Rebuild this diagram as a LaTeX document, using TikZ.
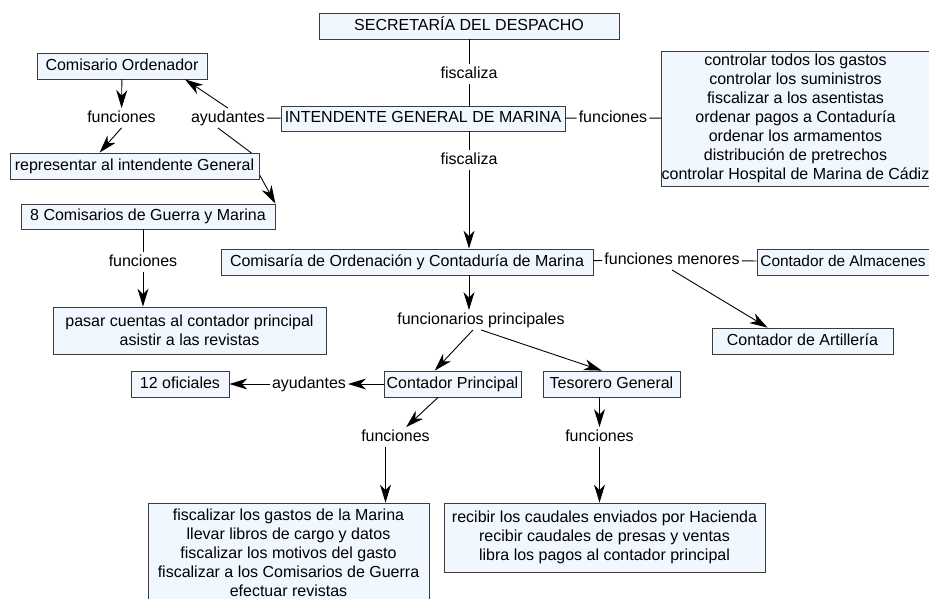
\documentclass[tikz,border=0pt]{standalone}
\usepackage{fontspec}
\setmainfont{Liberation Sans}
\usetikzlibrary{arrows.meta,backgrounds}
\definecolor{boxfill}{RGB}{240,247,254}
\definecolor{boxline}{RGB}{60,60,60}
\tikzset{
  concept/.style={draw=boxline, fill=boxfill, line width=0.8pt, inner sep=0pt,
    align=center, font=\fontsize{16}{19}\selectfont},
  oneline/.style={text height=12pt, text depth=3.5pt},
  word/.style={inner sep=2pt, font=\fontsize{16}{19}\selectfont,
    text height=12pt, text depth=3.5pt},
  link/.style={line width=0.9pt},
  arrowlink/.style={link, -{Stealth[length=18pt,width=11pt,inset=5.5pt]}},
}

\begin{document}
\begin{tikzpicture}[x=1pt, y=-1pt]
    \useasboundingbox (0,0) rectangle (929,599);
    \clip (0,0) rectangle (929,599);
    % concepts
    \node[concept, oneline, minimum width=300pt, minimum height=26pt] (sec) at (469,26) {SECRETARÍA DEL DESPACHO};
    \node[concept, oneline, minimum width=284pt, minimum height=25pt] (intd) at (423,118.5) {INTENDENTE GENERAL DE MARINA};
    \node[concept, oneline, minimum width=170pt, minimum height=26pt] (comord) at (122,66) {Comisario Ordenador};
    \node[concept, oneline, minimum width=249pt, minimum height=26pt] (repr) at (134.5,166) {representar al intendente General};
    \node[concept, oneline, minimum width=254pt, minimum height=25pt] (com8) at (148,216.5) {8 Comisarios de Guerra y Marina};
    \node[concept, minimum width=273pt, minimum height=47pt] (pasar) at (189.5,330.5) {pasar cuentas al contador principal\\asistir a las revistas};
    \node[concept, oneline, minimum width=372pt, minimum height=26pt] (comis) at (407,262) {Comisaría de Ordenación y Contaduría de Marina};
    \node[concept, oneline, minimum width=172pt, minimum height=26pt, font=\fontsize{15.4}{19}\selectfont] (almac) at (843,262) {Contador de Almacenes};
    \node[concept, oneline, minimum width=181pt, minimum height=26pt] (artil) at (802.5,341) {Contador de Artillería};
    \node[concept, minimum width=267pt, minimum height=135pt] (rbox) at (795.5,118.5) {controlar todos los gastos\\controlar los suministros\\fiscalizar a los asentistas\\ordenar pagos a Contaduría\\ordenar los armamentos\\distribución de pretrechos\\controlar Hospital de Marina de Cádiz};
    \node[concept, oneline, minimum width=98pt, minimum height=26pt] (ofic) at (180,384) {12 oficiales};
    \node[concept, oneline, minimum width=137pt, minimum height=26pt] (contP) at (452.5,384) {Contador Principal};
    \node[concept, oneline, minimum width=137pt, minimum height=26pt] (teso) at (611.5,384) {Tesorero General};
    \node[concept, minimum width=281pt, minimum height=100pt] (fbox) at (288.5,553) {fiscalizar los gastos de la Marina\\llevar libros de cargo y datos\\fiscalizar los motivos del gasto\\fiscalizar a los Comisarios de Guerra\\efectuar revistas};
    \node[concept, minimum width=321pt, minimum height=69pt] (rbox2) at (604.5,537.5) {recibir los caudales enviados por Hacienda\\recibir caudales de presas y ventas\\libra los pagos al contador principal};
    % linking words
    \node[word] (fisc1) at (469,74) {fiscaliza};
    \node[word] (fisc2) at (469,160) {fiscaliza};
    \node[word] (funcR) at (613,118) {funciones};
    \node[word] (ayuT) at (228,118) {ayudantes};
    \node[word] (funcA) at (121.5,118) {funciones};
    \node[word] (funcB) at (143,262) {funciones};
    \node[word] (funcM) at (672,260) {funciones menores};
    \node[word] (funcP) at (481,320) {funcionarios principales};
    \node[word] (ayuB) at (309,384) {ayudantes};
    \node[word] (funcC) at (395.5,437) {funciones};
    \node[word] (funcT) at (599.5,437) {funciones};
    \coordinate (h1) at (254,155);
    \coordinate (h2) at (258,172);
    \coordinate (cF) at ([xshift=-10pt]funcC.south);
    % links
    \draw[link] (sec) -- (fisc1);
    \draw[link] (fisc1) -- (fisc1 |- intd.north);
    \draw[link] (fisc2 |- intd.south) -- (fisc2);
    \draw[arrowlink] (fisc2) -- (fisc2 |- comis.north);
    \draw[link] (intd) -- (funcR);
    \draw[link] (funcR) -- (rbox);
    \draw[link] (intd) -- (ayuT);
    \draw[arrowlink] (ayuT.north) -- (comord.-12);
    \begin{scope}[on background layer]
        \draw[arrowlink] ([xshift=-10pt]ayuT.south) -- (h1) -- (h2) -- (com8.north east);
    \end{scope}
    \draw[arrowlink] (comord) -- (funcA);
    \draw[arrowlink] (funcA.south) -- (repr.159);
    \draw[link] (funcB |- com8.south) -- (funcB);
    \draw[arrowlink] (funcB) -- (funcB |- pasar.north);
    \draw[link] (comis) -- (funcM);
    \draw[link] (funcM) -- (almac);
    \draw[arrowlink] (funcM.south) -- (artil.159);
    \draw[arrowlink] (fisc2 |- comis.south) -- (fisc2 |- funcP.north);
    \draw[arrowlink] (funcP.231) -- (contP.143);
    \draw[arrowlink] (funcP.south) -- (teso.126);
    \draw[arrowlink] (contP) -- (ayuB);
    \draw[arrowlink] (ayuB) -- (ofic);
    \draw[arrowlink] (contP) -- (funcC);
    \draw[arrowlink] (cF) -- (cF |- fbox.north);
    \draw[arrowlink] (funcT |- teso.south) -- (funcT);
    \draw[arrowlink] (funcT) -- (funcT |- rbox2.north);
\end{tikzpicture}
\end{document}
